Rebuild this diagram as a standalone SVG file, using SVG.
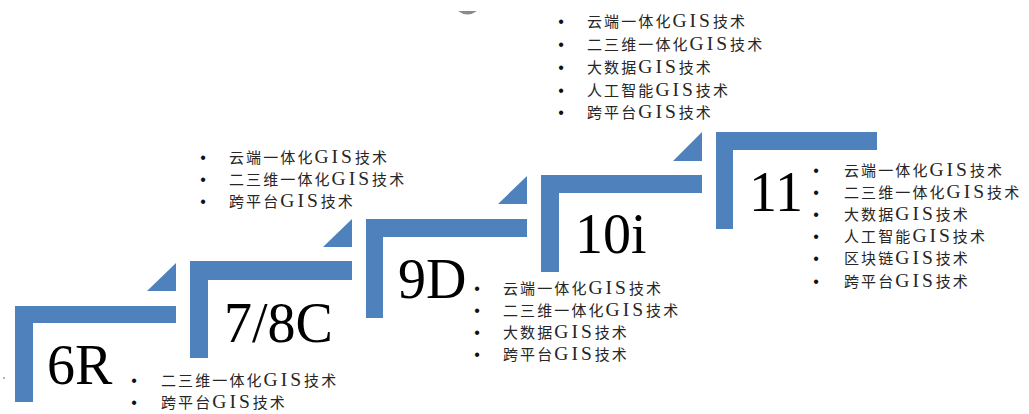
<svg xmlns="http://www.w3.org/2000/svg" width="1029" height="414" viewBox="0 0 1029 414">
<style>
.step{fill:#4F81BD}
.tri{fill:#4F81BD}
.lbl{font-family:"Liberation Serif","Times New Roman",serif;font-size:56px;fill:#000}
.li{font-family:"Noto Sans CJK SC","Noto Sans CJK JP",sans-serif;font-size:15px;letter-spacing:2.1px;fill:#262626}
.g{font-family:"Liberation Serif","Times New Roman",serif;font-size:19.5px;letter-spacing:3px}
.b{font-family:"Liberation Sans",Arial,sans-serif;font-size:16px;fill:#111;text-anchor:middle}
</style>
<rect width="1029" height="414" fill="#fff"/>
<path d="M458,11 Q467.5,18 477,11 Z" fill="#8a8a8a"/>
<rect x="3" y="377" width="2" height="2" fill="#9bb"/>
<g id="connectors">
<path class="tri" d="M147,291 H176 V263 Z"/>
<path class="tri" d="M323,247 H352 V219 Z"/>
<path class="tri" d="M498,204 H527 V176 Z"/>
<path class="tri" d="M673,161 H702 V132 Z"/>
</g>
<g id="step-6R">
<path class="step" d="M15,306 H176 V323 H33 V402 H15 Z"/>
<text class="lbl" x="47" y="384">6R</text>
<text class="b" x="134" y="386">•</text>
<text class="li" x="161" y="386">二三维一体化<tspan class="g">GIS</tspan>技术</text>
<text class="b" x="134" y="408">•</text>
<text class="li" x="161" y="408">跨平台<tspan class="g">GIS</tspan>技术</text>
</g>
<g id="step-78C">
<path class="step" d="M190,261 H352 V280 H208 V358 H190 Z"/>
<text class="lbl" x="224" y="342">7/8C</text>
<text class="b" x="203" y="163">•</text>
<text class="li" x="229" y="163">云端一体化<tspan class="g">GIS</tspan>技术</text>
<text class="b" x="203" y="185">•</text>
<text class="li" x="229" y="185">二三维一体化<tspan class="g">GIS</tspan>技术</text>
<text class="b" x="203" y="207">•</text>
<text class="li" x="229" y="207">跨平台<tspan class="g">GIS</tspan>技术</text>
</g>
<g id="step-9D">
<path class="step" d="M366,219 H527 V237 H383 V318 H366 Z"/>
<text class="lbl" x="398" y="298">9D</text>
<text class="b" x="477" y="294">•</text>
<text class="li" x="503" y="294">云端一体化<tspan class="g">GIS</tspan>技术</text>
<text class="b" x="477" y="316">•</text>
<text class="li" x="503" y="316">二三维一体化<tspan class="g">GIS</tspan>技术</text>
<text class="b" x="477" y="338">•</text>
<text class="li" x="503" y="338">大数据<tspan class="g">GIS</tspan>技术</text>
<text class="b" x="477" y="360">•</text>
<text class="li" x="503" y="360">跨平台<tspan class="g">GIS</tspan>技术</text>
</g>
<g id="step-10i">
<path class="step" d="M541,175 H702 V193 H559 V272 H541 Z"/>
<text class="lbl" x="575" y="253">10i</text>
<text class="b" x="561" y="27">•</text>
<text class="li" x="587" y="27">云端一体化<tspan class="g">GIS</tspan>技术</text>
<text class="b" x="561" y="50">•</text>
<text class="li" x="587" y="50">二三维一体化<tspan class="g">GIS</tspan>技术</text>
<text class="b" x="561" y="73">•</text>
<text class="li" x="587" y="73">大数据<tspan class="g">GIS</tspan>技术</text>
<text class="b" x="561" y="96">•</text>
<text class="li" x="587" y="96">人工智能<tspan class="g">GIS</tspan>技术</text>
<text class="b" x="561" y="118">•</text>
<text class="li" x="587" y="118">跨平台<tspan class="g">GIS</tspan>技术</text>
</g>
<g id="step-11">
<path class="step" d="M716,132 H877 V150 H733 V229 H716 Z"/>
<text class="lbl" x="749" y="211">11</text>
<text class="b" x="816" y="176">•</text>
<text class="li" x="844" y="176">云端一体化<tspan class="g">GIS</tspan>技术</text>
<text class="b" x="816" y="198">•</text>
<text class="li" x="844" y="198">二三维一体化<tspan class="g">GIS</tspan>技术</text>
<text class="b" x="816" y="220">•</text>
<text class="li" x="844" y="220">大数据<tspan class="g">GIS</tspan>技术</text>
<text class="b" x="816" y="242">•</text>
<text class="li" x="844" y="242">人工智能<tspan class="g">GIS</tspan>技术</text>
<text class="b" x="816" y="264">•</text>
<text class="li" x="844" y="264">区块链<tspan class="g">GIS</tspan>技术</text>
<text class="b" x="816" y="287">•</text>
<text class="li" x="844" y="287">跨平台<tspan class="g">GIS</tspan>技术</text>
</g>
</svg>
